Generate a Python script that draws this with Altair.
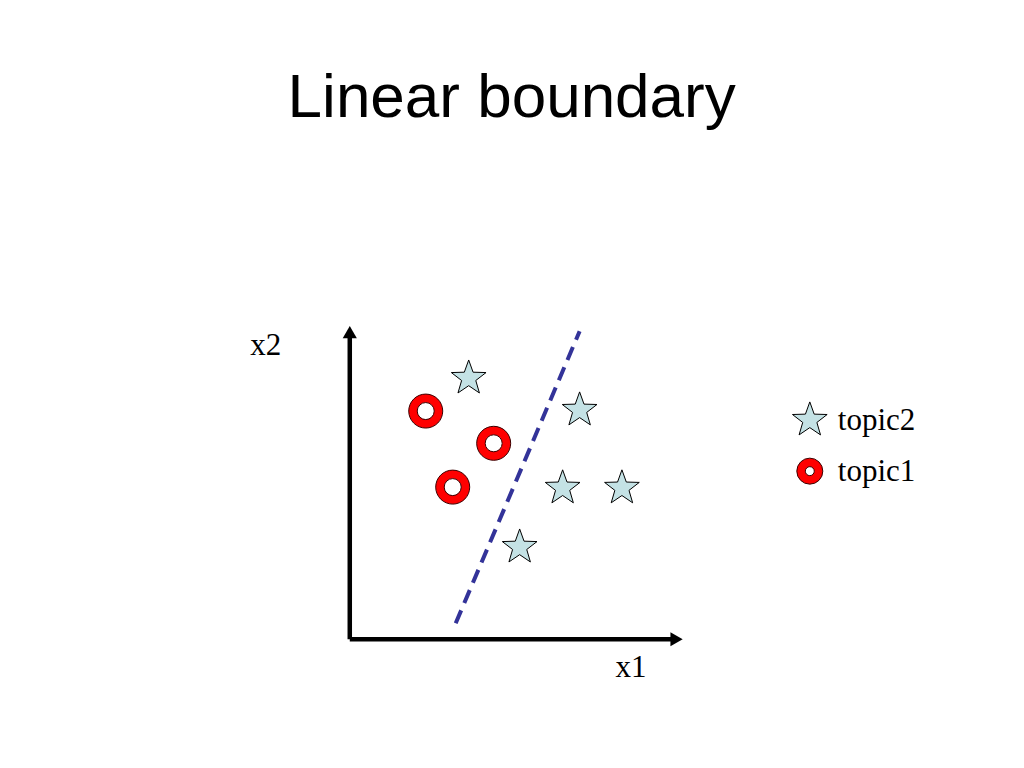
import altair as alt
import pandas as pd

# ---- data (in plot units; axes run 0..10) ----
title_text = ["Linear boundary"]
topic1_x = [2.28, 4.32, 3.09]
topic1_y = [7.29, 6.26, 4.86]
topic2_x = [3.57, 6.90, 6.39, 8.17, 5.10]
topic2_y = [8.34, 7.32, 4.83, 4.83, 2.94]
boundary_x = [3.18, 6.90]
boundary_y = [0.51, 9.84]
axis_names = ["x1", "x2"]
axis_extent = [10.0, 10.0]
legend_labels = ["topic2", "topic1"]

# ---- layout ----
XD = [-10.26, 20.0]
YD = [-3.86, 20.17]
STAR = ("M0,-1L0.24,-0.33L0.951,-0.309L0.388,0.126L0.588,0.809L0,0.41"
        "L-0.588,0.809L-0.388,0.126L-0.951,-0.309L-0.24,-0.33Z")


def X(field="x"):
    return alt.X(f"{field}:Q", scale=alt.Scale(domain=XD, nice=False, zero=False), axis=None)


def Y(field="y"):
    return alt.Y(f"{field}:Q", scale=alt.Scale(domain=YD, nice=False, zero=False), axis=None)


head = 0.19  # arrow head length in plot units
x_end, y_end = axis_extent

axes_df = pd.DataFrame({
    "x": [0.0, 0.0], "y": [0.0, 0.0],
    "x2": [x_end - head, 0.0], "y2": [0.0, y_end - head],
})
axes = alt.Chart(axes_df).mark_rule(color="black", strokeWidth=4.5, strokeCap="butt").encode(
    x=X(), y=Y(), x2="x2:Q", y2="y2:Q")

heads = alt.layer(
    alt.Chart(pd.DataFrame({"x": [x_end - head], "y": [0.0]})).mark_point(
        shape="triangle-right", size=200, filled=True, color="black", opacity=1).encode(x=X(), y=Y()),
    alt.Chart(pd.DataFrame({"x": [0.0], "y": [y_end - head]})).mark_point(
        shape="triangle-up", size=200, filled=True, color="black", opacity=1).encode(x=X(), y=Y()),
)

axis_lab_df = pd.DataFrame({
    "label": axis_names,
    "x": [x_end * 0.844, -2.52],
    "y": [-1.21, y_end * 0.908],
})
axis_labels = alt.Chart(axis_lab_df).mark_text(
    font="Liberation Serif", fontSize=31, color="black", align="center", baseline="alphabetic"
).encode(x=X(), y=Y(), text="label:N")

bnd = alt.Chart(pd.DataFrame({"x": boundary_x, "y": boundary_y})).mark_line(
    color="#333399", strokeWidth=4, strokeDash=[14, 8]).encode(x=X(), y=Y())

stars_df = pd.DataFrame({"x": topic2_x, "y": topic2_y})
stars = alt.Chart(stars_df).mark_point(
    shape=STAR, size=1330, filled=True, fill="#C4E2E5", stroke="black", strokeWidth=1,
    opacity=1, fillOpacity=1).encode(x=X(), y=Y())

circ_df = pd.DataFrame({"x": topic1_x, "y": topic1_y})
rings_outer = alt.Chart(circ_df).mark_point(
    shape="circle", size=1156, filled=True, fill="#FF0000", stroke="#3a0000", strokeWidth=1,
    opacity=1, fillOpacity=1).encode(x=X(), y=Y())
rings_inner = alt.Chart(circ_df).mark_point(
    shape="circle", size=289, filled=True, fill="white", stroke="#3a0000", strokeWidth=1,
    opacity=1, fillOpacity=1).encode(x=X(), y=Y())

title = alt.Chart(pd.DataFrame({"t": title_text, "x": [4.86], "y": [16.68]})).mark_text(
    font="Liberation Sans", fontSize=62, color="black", align="center", baseline="alphabetic"
).encode(x=X(), y=Y(), text="t:N")

# legend
lx_sym, lx_txt = 13.81, 14.65
leg_star = alt.Chart(pd.DataFrame({"x": [lx_sym], "y": [7.0]})).mark_point(
    shape=STAR, size=1330, filled=True, fill="#C4E2E5", stroke="black", strokeWidth=1,
    opacity=1).encode(x=X(), y=Y())
leg_ring_o = alt.Chart(pd.DataFrame({"x": [lx_sym], "y": [5.37]})).mark_point(
    shape="circle", size=676, filled=True, fill="#FF0000", stroke="#3a0000", strokeWidth=1,
    opacity=1).encode(x=X(), y=Y())
leg_ring_i = alt.Chart(pd.DataFrame({"x": [lx_sym], "y": [5.37]})).mark_point(
    shape="circle", size=80, filled=True, fill="white", stroke="#3a0000", strokeWidth=1,
    opacity=1).encode(x=X(), y=Y())
leg_text = alt.Chart(pd.DataFrame({"t": legend_labels, "x": [lx_txt, lx_txt], "y": [6.68, 5.05]})).mark_text(
    font="Liberation Serif", fontSize=31, color="black", align="left", baseline="alphabetic"
).encode(x=X(), y=Y(), text="t:N")

chart = alt.layer(
    title, axes, heads, axis_labels, bnd, stars, rings_outer, rings_inner,
    leg_star, leg_ring_o, leg_ring_i, leg_text
).properties(
    width=1008, height=752, padding=0,
    autosize=alt.AutoSizeParams(type="fit", contains="padding"),
    background="white",
).configure_view(stroke=None)

chart.save("out.html", embed_options={"renderer": "svg", "actions": False})
